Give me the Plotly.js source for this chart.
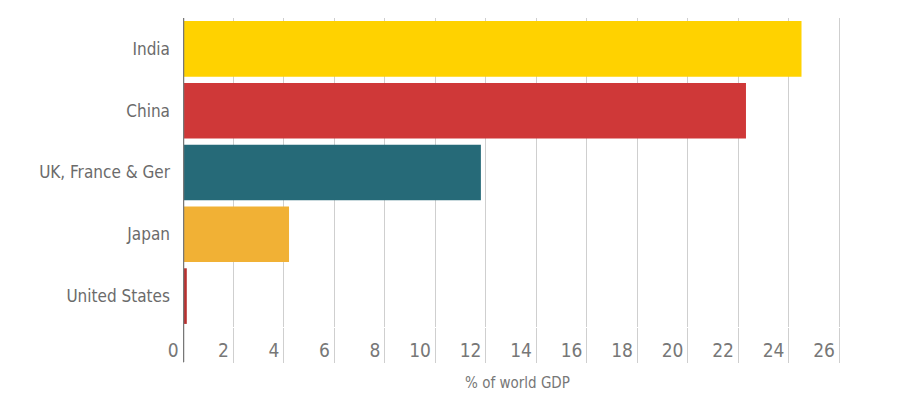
<!DOCTYPE html>
<html>
<head>
<meta charset="utf-8">
<script src="https://cdn.plot.ly/plotly-3.0.1.min.js"></script>
<style>html,body{margin:0;padding:0;background:#fff;}#chart{width:900px;height:411px;}</style>
</head>
<body>
<div id="chart"></div>
<script>
const categories = ["India", "China", "UK, France & Ger", "Japan", "United States"];
const shares = [24.5, 22.3, 11.8, 4.2, 0.15];
const barColors = ["#FFD200", "#CF3838", "#266A78", "#F1B135", "#B8302F"];
const tickValues = [0, 2, 4, 6, 8, 10, 12, 14, 16, 18, 20, 22, 24, 26];
const xTitle = "% of world GDP";

const FONT = "'DejaVu Sans Condensed', 'Liberation Sans Narrow', sans-serif";

const trace = {
  type: "bar",
  orientation: "h",
  y: categories,
  x: shares,
  marker: {color: barColors, line: {width: 0}},
  hoverinfo: "skip"
};

const layout = {
  width: 900, height: 411,
  margin: {l: 183, r: 48, t: 18, b: 84},
  paper_bgcolor: "#fff", plot_bgcolor: "#fff",
  showlegend: false,
  bargap: 0.1,
  font: {family: FONT, color: "#6b6b6b"},
  xaxis: {
    range: [0, 26.5],
    tickvals: tickValues,
    ticktext: tickValues.map(String),
    showgrid: true, gridcolor: "#cfcfcf", gridwidth: 1,
    zeroline: false,
    showline: false,
    ticks: "outside", ticklen: 35, tickcolor: "#cfcfcf", tickwidth: 1,
    ticklabelposition: "outside left",
    ticklabelstandoff: 6,
    ticklabelshift: -4,
    tickfont: {size: 19, color: "#777"},
    title: {text: xTitle, font: {size: 15, color: "#777"}, standoff: 17},
    fixedrange: true
  },
  yaxis: {
    type: "category",
    autorange: "reversed",
    showgrid: false, zeroline: false, showline: false,
    ticks: "", ticklabelstandoff: 12,
    tickfont: {size: 17, color: "#6b6b6b"},
    fixedrange: true
  },
  shapes: [{
    type: "line", xref: "x", yref: "paper",
    x0: 0, x1: 0, y0: -0.113, y1: 1,
    line: {color: "#777", width: 2.5}
  }]
};

Plotly.newPlot("chart", [trace], layout, {displayModeBar: false, staticPlot: true});
</script>
</body>
</html>
